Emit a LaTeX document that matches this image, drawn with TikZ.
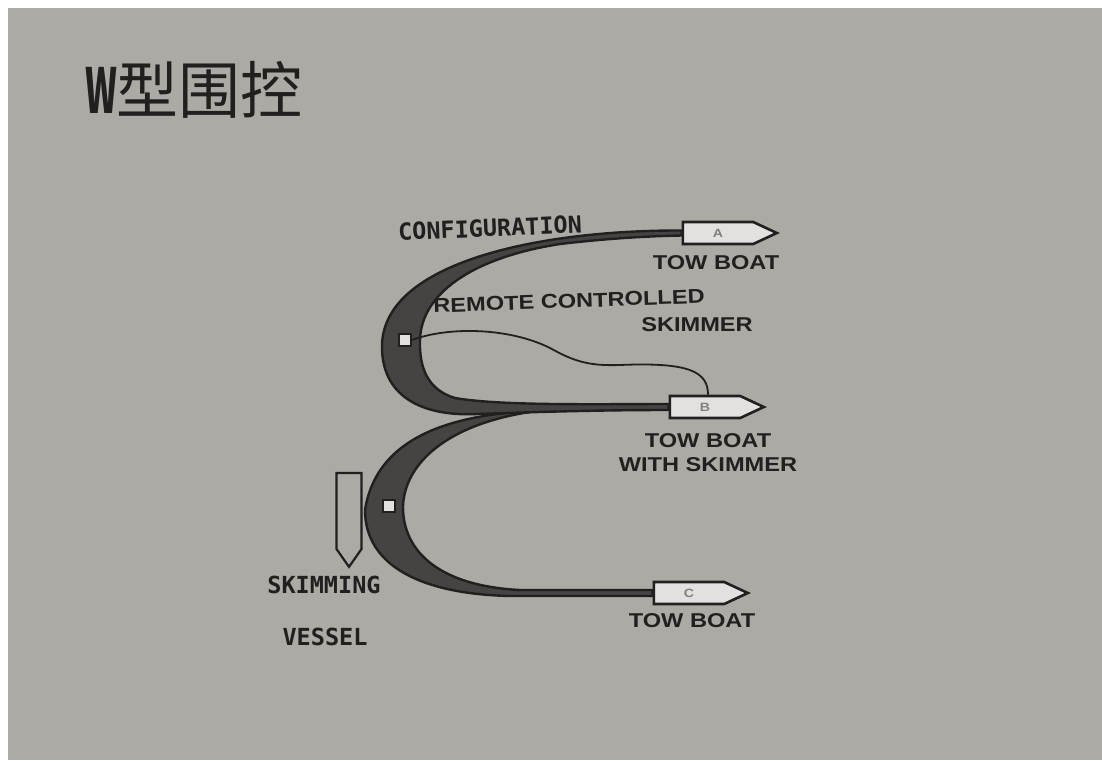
\documentclass[tikz,border=0pt]{standalone}
\usepackage{fontspec}
\usetikzlibrary{shapes.symbols}

\newfontfamily\cjk{Noto Sans CJK SC}
\newfontfamily\cjkw{Noto Sans CJK SC}[FakeStretch=0.55]
\newfontfamily\boatfont{Liberation Sans}[FakeStretch=1.18]
\newfontfamily\typefont{DejaVu Sans Mono}

\definecolor{paper}{RGB}{173,169,165}
\definecolor{ink}{RGB}{33,32,31}
\definecolor{boomfill}{RGB}{70,68,66}
\definecolor{hull}{RGB}{226,225,223}

\tikzset{
  boom/.style = {draw = ink, line width = 2.4pt, fill = boomfill, line join = round},
  wire/.style = {draw = ink, line width = 1.8pt},
  boat/.style = {shape = signal, signal to = east, signal pointer angle = 50,
                 draw = ink, line width = 2.6pt, fill = hull,
                 minimum width = 94pt, minimum height = 22pt, inner sep = 0pt,
                 text = gray, font = \boatfont\bfseries\fontsize{12}{12}\selectfont},
  vessel/.style = {shape = signal, signal to = south, signal pointer angle = 70,
                   draw = ink, line width = 2.2pt, fill = paper,
                   minimum width = 25pt, minimum height = 76pt, inner sep = 0pt},
  joint/.style = {draw = ink, line width = 1.6pt, fill = hull,
                  minimum size = 12pt, inner sep = 0pt},
  tag/.style = {text = ink, inner sep = 0pt,
                font = \boatfont\bfseries\fontsize{20}{20}\selectfont},
  mono/.style = {text = ink, inner sep = 0pt,
                 font = \typefont\bfseries\fontsize{23.5}{23.5}\selectfont},
}

\begin{document}
\begin{tikzpicture}[x = 1pt, y = -1pt]
\useasboundingbox (0, 0) rectangle (1102, 760);
\fill[white] (0, 0) rectangle (1102, 760);
\fill[paper] (8, 8) rectangle (1102, 760);

% boats at the ends of the booms
\node[boat] (A) at (718, 233) {A};
\node[boat] (B) at (705, 407) {B};
\node[boat] (C) at (689, 593) {C};
\node[vessel] (V) at (349, 511) {};

% lower boom
\draw[boom] (560, 410) .. controls (470, 411) and (378, 428) .. (365, 510)
  .. controls (365, 565) and (420, 594) .. (510, 596)
  -- ([yshift = -3pt]C.west) -- ([yshift = 3pt]C.west)
  -- (520, 590) .. controls (440, 586) and (403, 552) .. (403, 507)
  .. controls (404, 465) and (445, 425) .. (530, 412) -- (560, 406) -- cycle;

% upper boom
\draw[boom] ([yshift = 2.5pt]A.west) .. controls (540, 230) and (384, 262) .. (382, 345)
  .. controls (381, 395) and (420, 417) .. (478, 414)
  .. controls (560, 411) and (620, 410) .. ([yshift = -3pt]B.west)
  -- ([yshift = 3pt]B.west)
  .. controls (600, 404) and (500, 406) .. (455, 398)
  .. controls (428, 390) and (419, 368) .. (420, 340)
  .. controls (421, 295) and (470, 258) .. (560, 244)
  .. controls (620, 237) and (660, 236) .. ([yshift = -2.5pt]A.west) -- cycle;

\node[joint] (sqA) at (405, 340) {};
\node[joint] (sqB) at (389, 506) {};

% control line to the skimmer
\draw[wire] (sqA.east) .. controls (450, 326) and (510, 328) .. (550, 348)
  .. controls (575, 362) and (590, 366) .. (620, 365)
  .. controls (690, 362) and (708, 372) .. ([xshift = 3pt]B.north);

% labels
\node[font = \cjk\fontsize{62}{62}\selectfont, text = ink, inner sep = 0pt] (title)
  at (194, 90) {{\cjkw\bfseries W}型围控};
\node[mono, rotate = 2.5] (cfg) at (490, 228) {CONFIGURATION};
\node[tag] (towA) at (716, 263) {TOW BOAT};
\node[tag, rotate = 2] (rcA) at (569, 301) {REMOTE CONTROLLED};
\node[tag] (rcB) at (697, 325) {SKIMMER};
\node[tag] (towB) at (708, 441) {TOW BOAT};
\node[tag] (wsk) at (708, 465) {WITH SKIMMER};
\node[mono] (skim) at (324, 585) {SKIMMING};
\node[mono] (vsl) at (325, 637) {VESSEL};
\node[tag] (towC) at (692, 621) {TOW BOAT};
\end{tikzpicture}
\end{document}
